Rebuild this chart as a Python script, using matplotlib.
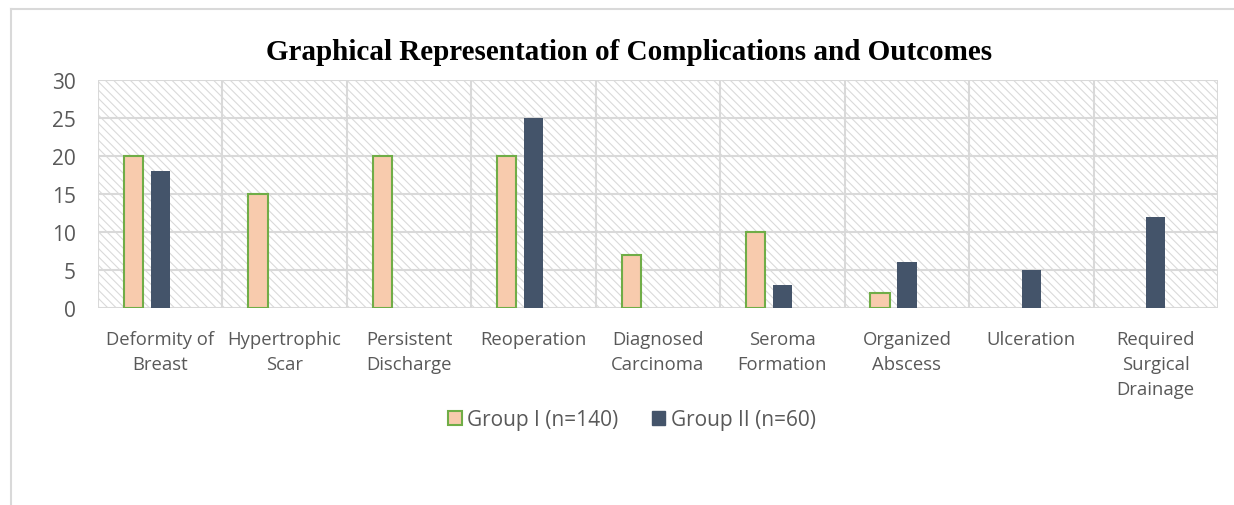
import matplotlib
matplotlib.use("Agg")
import matplotlib.pyplot as plt
import numpy as np
from matplotlib.lines import Line2D
from matplotlib.patches import Patch

categories = ["Deformity of\nBreast", "Hypertrophic\nScar", "Persistent\nDischarge",
              "Reoperation", "Diagnosed\nCarcinoma", "Seroma\nFormation",
              "Organized\nAbscess", "Ulceration", "Required\nSurgical\nDrainage"]
group1 = [20, 15, 20, 20, 7, 10, 2, 0, 0]
group2 = [18, 0, 0, 25, 0, 3, 6, 5, 12]
series_names = ["Group I (n=140)", "Group II (n=60)"]
yticks = [0, 5, 10, 15, 20, 25, 30]
title = "Graphical Representation of Complications and Outcomes"

W, H = 1234, 506
fig = plt.figure(figsize=(W / 100, H / 100), dpi=100)
plt.rcParams['hatch.color'] = '#DADADA'
plt.rcParams['hatch.linewidth'] = 0.8

grid_c = '#D9D9D9'
text_c = '#595959'
font = 'Open Sans'

# outer chart frame (top and left visible)
fig.add_artist(Line2D([11 / W, 11 / W], [0, 1 - 10 / H], transform=fig.transFigure,
                      color=grid_c, lw=1.5))
fig.add_artist(Line2D([11 / W, 1], [1 - 10 / H, 1 - 10 / H], transform=fig.transFigure,
                      color=grid_c, lw=1.5))

left, right, top, bottom = 98, 1218, 81, 309
ax = fig.add_axes([left / W, 1 - bottom / H, (right - left) / W, (bottom - top) / H])
ax.patch.set_facecolor('white')
ax.patch.set_hatch('\\\\\\\\')
ax.patch.set_edgecolor('#DADADA')
ax.patch.set_linewidth(0)

n = len(categories)
x = np.arange(n)
bw = 0.155
ec1 = ['#70AD47' if v > 0 else 'none' for v in group1]
ax.bar(x - 0.215, group1, width=bw, color='#F8CBAD', edgecolor=ec1, linewidth=1.5,
       zorder=3, label=series_names[0])
ax.bar(x + 0.0, group2, width=bw, color='#44546A', edgecolor='none', linewidth=0,
       zorder=3, label=series_names[1])

ax.set_xlim(-0.5, n - 0.5)
ax.set_ylim(0, 30)
ax.set_yticks(yticks)
for y in yticks:
    ax.axhline(y, color=grid_c, lw=1.5, zorder=1)
for b in np.arange(-0.5, n, 1.0):
    ax.axvline(b, color=grid_c, lw=1.5, zorder=1)
for s in ax.spines.values():
    s.set_visible(False)

ax.set_xticks(x)
ax.set_xticklabels(categories, fontsize=13.3, color=text_c, fontfamily=font, linespacing=1.5,
                   va='top')
ax.tick_params(axis='x', length=0, pad=15.5)
ax.tick_params(axis='y', length=0, pad=16, labelsize=15, labelcolor=text_c)
for lab in ax.get_yticklabels():
    lab.set_fontfamily(font)

fig.text(629 / W, 1 - 52 / H, title, ha='center', va='center', fontsize=21,
         fontweight='bold', fontfamily='Liberation Serif', color='black')

handles = [Patch(facecolor='#F8CBAD', edgecolor='#70AD47', linewidth=1.5),
           Patch(facecolor='#44546A', edgecolor='#44546A')]
fig.legend(handles, series_names, loc='center', bbox_to_anchor=(632 / W, 1 - 421 / H),
           ncol=2, frameon=False, prop={'family': font, 'size': 15},
           labelcolor=text_c, handlelength=0.65, handleheight=0.65, handletextpad=0.25,
           columnspacing=1.6)

fig.savefig('out.png', dpi=100)
